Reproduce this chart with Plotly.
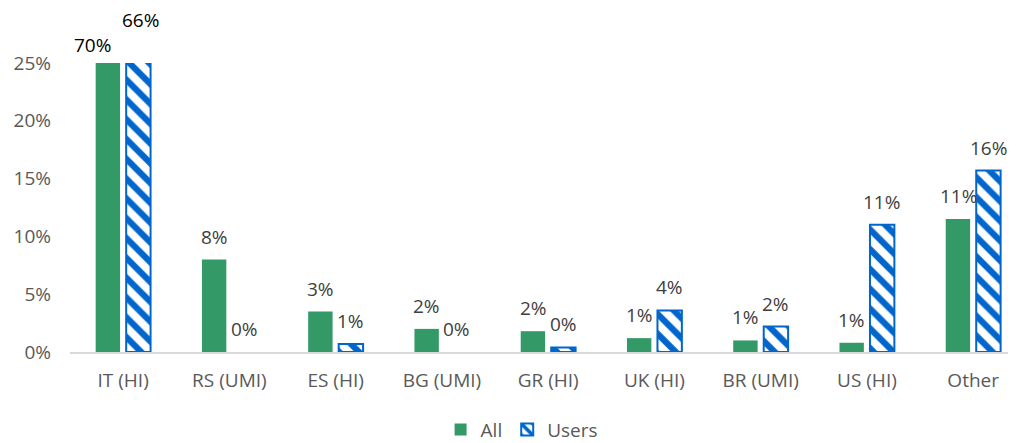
import plotly.graph_objects as go

categories = ['IT (HI)', 'RS (UMI)', 'ES (HI)', 'BG (UMI)', 'GR (HI)',
              'UK (HI)', 'BR (UMI)', 'US (HI)', 'Other']
all_vals = [70, 8, 3.5, 2.0, 1.8, 1.2, 1.0, 0.8, 11.5]
users_vals = [66, 0, 0.7, 0, 0.4, 3.6, 2.2, 11.0, 15.7]
all_labels = ['70%', '8%', '3%', '2%', '2%', '1%', '1%', '1%', '11%']
users_labels = ['66%', '0%', '1%', '0%', '0%', '4%', '2%', '11%', '16%']
y_ticks = [0, 5, 10, 15, 20, 25]
y_tick_labels = ['0%', '5%', '10%', '15%', '20%', '25%']

FONT = 'Open Sans'
GREEN = '#339966'
BLUE = '#0066CC'
Y_MAX = 25

fig = go.Figure()
fig.add_trace(go.Bar(
    x=categories, y=all_vals, name='All',
    marker=dict(color=GREEN, line=dict(width=0)),
))
fig.add_trace(go.Bar(
    x=categories, y=users_vals, name='Users',
    marker=dict(
        color='white',
        # no outline on empty bars, Excel draws nothing there
        line=dict(color=BLUE, width=[2 if v > 0 else 0 for v in users_vals]),
        pattern=dict(shape='\\', fgcolor=BLUE, bgcolor='white', fgopacity=1,
                     size=14, solidity=0.45),
    ),
))

# data labels (Excel-style, sitting above each bar)
annotations = []
for i, cat in enumerate(categories):
    for vals, labels, xs in ((all_vals, all_labels, -15), (users_vals, users_labels, 15)):
        v = vals[i]
        dx, dy, col = 0, 23, '#404040'
        if v > Y_MAX:  # bars running off the top of the axis
            col = '#000000'
            dx, dy = (-16, 18) if xs < 0 else (2, 43)
        annotations.append(dict(
            x=cat, y=min(v, Y_MAX), xref='x', yref='y',
            text=labels[i], showarrow=False,
            xshift=xs + dx, yshift=dy, yanchor='middle',
            font=dict(family=FONT, size=19, color=col),
        ))

# the page puts the figure 8px in from the top-left, margins allow for it
fig.update_layout(
    width=1016, height=443,
    margin=dict(l=62, r=8, t=55, b=99),
    paper_bgcolor='white', plot_bgcolor='white',
    font=dict(family=FONT, size=19, color='#595959'),
    barmode='group', bargap=0.426, bargroupgap=0.2,
    showlegend=True,
    legend=dict(orientation='h', xref='container', yref='container',
                x=0.506, xanchor='center', y=0.048, yanchor='middle',
                font=dict(family=FONT, size=19, color='#595959'),
                itemwidth=30, traceorder='normal'),
    annotations=annotations,
)
fig.update_xaxes(range=[-0.5, 8.403], showline=True, linecolor='#D9D9D9', linewidth=2,
                 showgrid=False, ticks='', automargin=False, ticklabelstandoff=10,
                 tickfont=dict(size=19, color='#595959'))
fig.update_yaxes(range=[0, Y_MAX], tickvals=y_ticks, ticktext=y_tick_labels,
                 showgrid=False, zeroline=False, showline=False, ticks='',
                 automargin=False, ticklabelstandoff=18,
                 tickfont=dict(size=19, color='#595959'))

fig.write_html('out.html')
